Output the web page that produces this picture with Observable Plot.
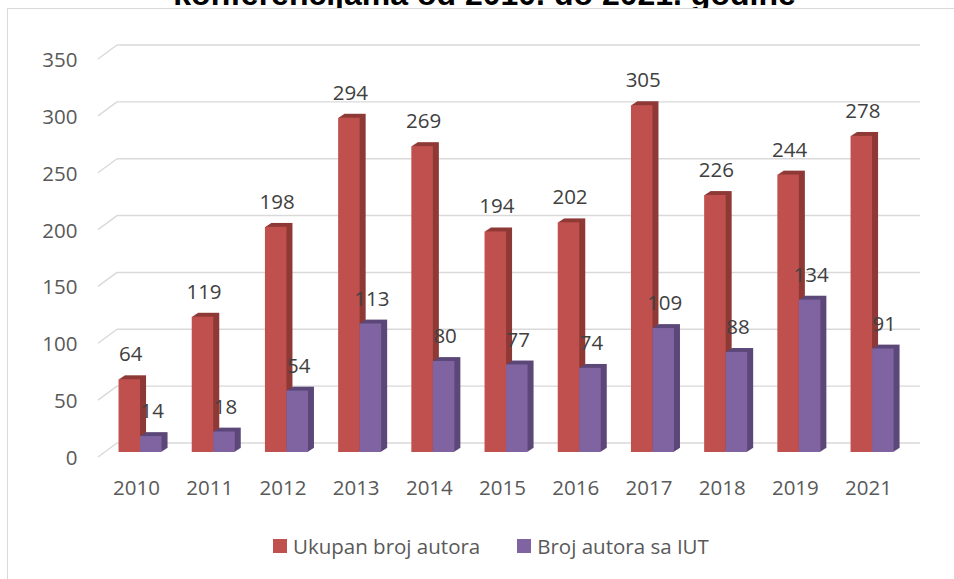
<!DOCTYPE html>
<html>
<head>
<meta charset="utf-8">
<script src="https://cdn.jsdelivr.net/npm/d3@7"></script>
<script src="https://cdn.jsdelivr.net/npm/@observablehq/plot@0.6"></script>
<style>
  html, body { margin: 0; padding: 0; background: #fff; width: 954px; height: 579px; overflow: hidden; position: relative; }
  #title { position: absolute; top: -22px; left: 0; width: 969px; text-align: center; font: bold 32px "Liberation Sans", Arial, sans-serif; line-height: 32px; color: #000; white-space: nowrap; }
  #box { position: absolute; left: 7px; top: 8px; width: 947px; height: 571px; box-sizing: border-box; border-left: 1px solid #d9d9d9; border-top: 1px solid #d9d9d9; background: #fff; }
  #legend { display: flex; align-items: center; padding-left: 265px; padding-top: 13px; height: 28px; font-family: "Open Sans", sans-serif; font-size: 20.5px; color: #595959; }
  .item { display: flex; align-items: center; }
  .sw { width: 14px; height: 14px; margin-right: 6px; }
</style>
</head>
<body>
<div id="title">konferencijama od 2010. do 2021. godine</div>
<div id="box"><div id="chart"></div><div id="legend"></div></div>
<script>
const years = ["2010","2011","2012","2013","2014","2015","2016","2017","2018","2019","2021"];
const ukupan = [64,119,198,294,269,194,202,305,226,244,278];
const iut = [14,18,54,113,80,77,74,109,88,134,91];
const yTicks = [0,50,100,150,200,250,300,350];
const seriesNames = ["Ukupan broj autora","Broj autora sa IUT"];
const seriesColors = ["#c0504d","#8064a2"];
const sideColors = ["#8e3936","#5c4779"];

const rows = years.map((y, i) => ({year: y, ukupan: ukupan[i], iut: iut[i]}));
const half = 10.75;
const depth = d3.range(1, 7);

const marks = [];
// gridlines on back wall with slanted side-wall segment
marks.push(Plot.ruleY(yTicks, {
  y: d => d,
  render: (index, scales, values, dims) => {
    const g = d3.create("svg:g").attr("stroke", "#d9d9d9").attr("stroke-width", 1.4).attr("fill", "none");
    for (const i of index) {
      const yy = scales.y(yTicks[i]);
      g.append("line").attr("x1", dims.marginLeft).attr("x2", dims.width - dims.marginRight).attr("y1", yy - 9).attr("y2", yy - 9);
      g.append("line").attr("x1", dims.marginLeft).attr("y1", yy - 9).attr("x2", dims.marginLeft - 19).attr("y2", yy + 5);
    }
    return g.node();
  }
}));
marks.push(Plot.axisY(yTicks, {tickSize: 0, tickPadding: 40, dy: 6, color: "#595959"}));

const keys = ["ukupan", "iut"];
keys.forEach((k, s) => {
  const off = s === 0 ? -half : half;
  for (const d of depth) {
    marks.push(Plot.barY(rows, {x: "year", y: k, dx: off + d, dy: -d * 0.65, fill: sideColors[s]}));
  }
  marks.push(Plot.barY(rows, {x: "year", y: k, dx: off, fill: seriesColors[s]}));
});
keys.forEach((k, s) => {
  const off = s === 0 ? -half : half;
  marks.push(Plot.text(rows, {x: "year", y: k, text: d => String(d[k]), dx: off + 1, dy: -25, fill: "#404040"}));
});
marks.push(Plot.text(years, {x: d => d, y: d => 0, text: d => d, dy: 35.5, dx: -4, fill: "#595959"}));

const chart = Plot.plot({
  width: 946,
  height: 510,
  marginLeft: 109,
  marginRight: 34,
  marginTop: 0,
  marginBottom: 0,
  style: {fontFamily: "Open Sans, sans-serif", fontSize: "20.5px", background: "transparent", overflow: "visible"},
  x: {type: "band", domain: years, range: [69.6, 926.5], padding: 0.706, round: false, axis: null},
  y: {domain: [0, 350], range: [443, 45], axis: null},
  marks
});
document.getElementById("chart").appendChild(chart);

const legend = document.getElementById("legend");
seriesNames.forEach((n, i) => {
  const it = document.createElement("div");
  it.className = "item";
  if (i > 0) it.style.marginLeft = "37px";
  const sw = document.createElement("div");
  sw.className = "sw";
  sw.style.background = seriesColors[i];
  const t = document.createElement("span");
  t.textContent = n;
  it.appendChild(sw); it.appendChild(t);
  legend.appendChild(it);
});
</script>
</body>
</html>
